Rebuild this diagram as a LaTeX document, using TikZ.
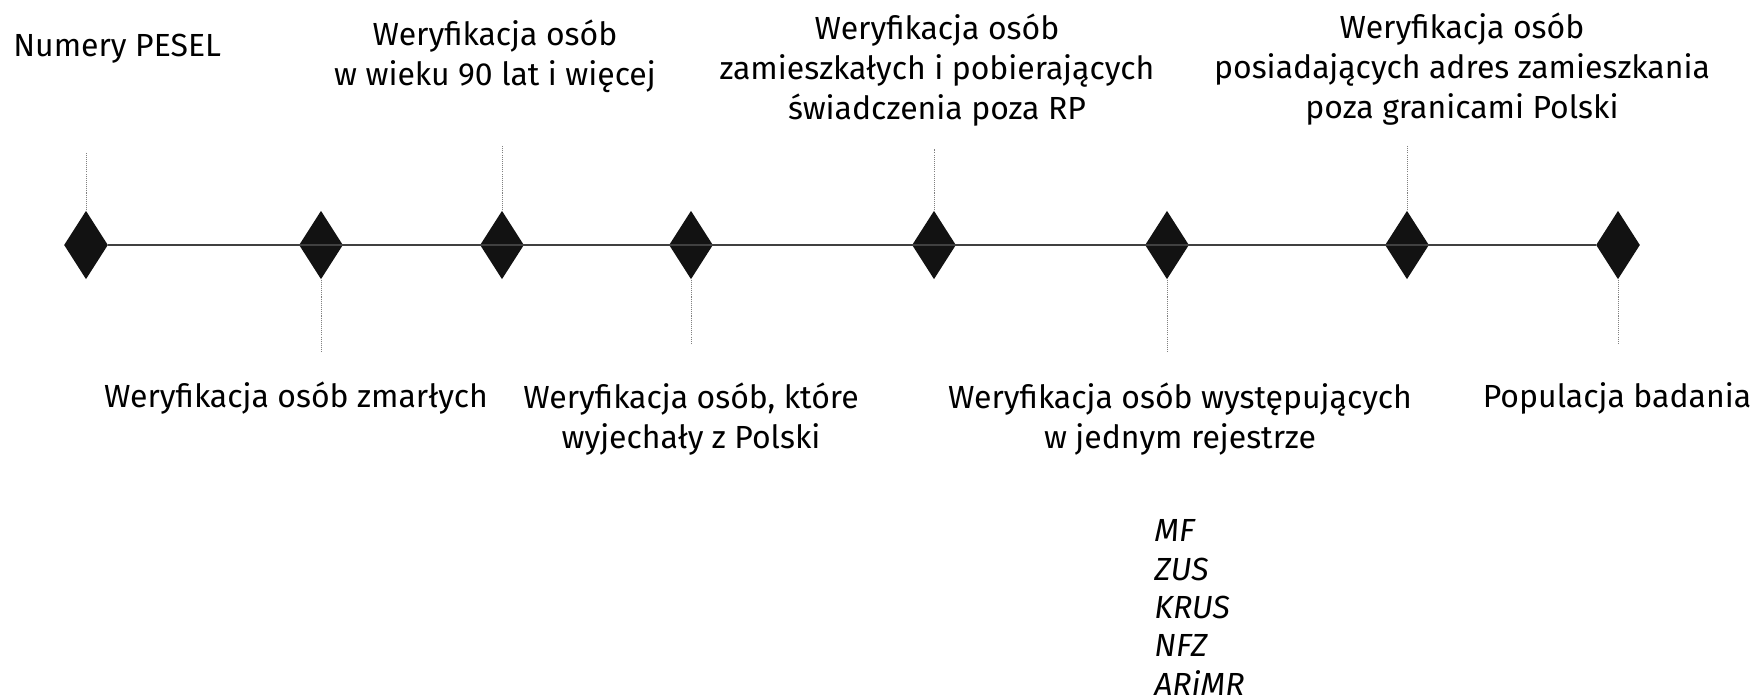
\documentclass[tikz,border=0pt]{standalone}
\usepackage{fontspec}
\setmainfont{Fira Sans}
\usetikzlibrary{shapes.geometric}

\tikzset{
  krok/.style={diamond, fill=black!93, inner sep=0pt, minimum width=25, minimum height=39},
  opis/.style={inner sep=0pt, align=center, font=\fontsize{18.2}{22.7}\selectfont},
  rejestr/.style={inner sep=0pt, align=left, font=\fontsize{18.2}{21.8}\selectfont\itshape},
  stem/.style={gray, line width=0.5pt, dash pattern=on 0.6pt off 0.6pt},
  os/.style={black!75, line width=0.8pt}
}

\begin{document}
\begin{tikzpicture}[x=0.02cm,y=-0.02cm]

			\useasboundingbox (0,0) rectangle (1758,698);

			% Timeline
			\node[krok] (d1) at (86,245) {};
			\node[krok] (d2) at (321,245) {};
			\node[krok] (d3) at (502,245) {};
			\node[krok] (d4) at (691,245) {};
			\node[krok] (d5) at (934,245) {};
			\node[krok] (d6) at (1167,245) {};
			\node[krok] (d7) at (1407,245) {};
			\node[krok] (d8) at (1618,245) {};
			\draw[os] (d1) \foreach \i in {2,...,8} {-- (d\i)};

			% Dotted stems
			\coordinate (s1) at (86,153);
			\coordinate (s2) at (321,352);
			\coordinate (s3) at (502,146);
			\coordinate (s4) at (691,344);
			\coordinate (s5) at (934,149);
			\coordinate (s6) at (1167,352);
			\coordinate (s7) at (1407,146);
			\coordinate (s8) at (1618,344);
			\foreach \i in {1,...,8} {\draw[stem] (d\i) -- (s\i);}

			% Labels above
			\node[opis, anchor=base west] (pesel) at (13,56) {Numery PESEL};
			\node[opis, anchor=base] (wiek) at (495,85) {Weryfikacja osób\\w wieku 90 lat i więcej};
			\node[opis, anchor=base] (rp) at (937,119) {Weryfikacja osób\\zamieszkałych i pobierających\\świadczenia poza RP};
			\node[opis, anchor=base] (adres) at (1462,118) {Weryfikacja osób\\posiadających adres zamieszkania\\poza granicami Polski};

			% Labels below
			\node[opis, anchor=base] (zmarli) at (296,407) {Weryfikacja osób zmarłych};
			\node[opis, anchor=base] (wyjazd) at (691,448) {Weryfikacja osób, które\\wyjechały z Polski};
			\node[opis, anchor=base] (jeden) at (1180,448) {Weryfikacja osób występujących\\w jednym rejestrze};
			\node[opis, anchor=base] (populacja) at (1617,407) {Populacja badania};

			% Registers
			\node[rejestr, anchor=base west] (lista) at (1154,695) {MF\\ZUS\\KRUS\\NFZ\\ARiMR};

\end{tikzpicture}
\end{document}
